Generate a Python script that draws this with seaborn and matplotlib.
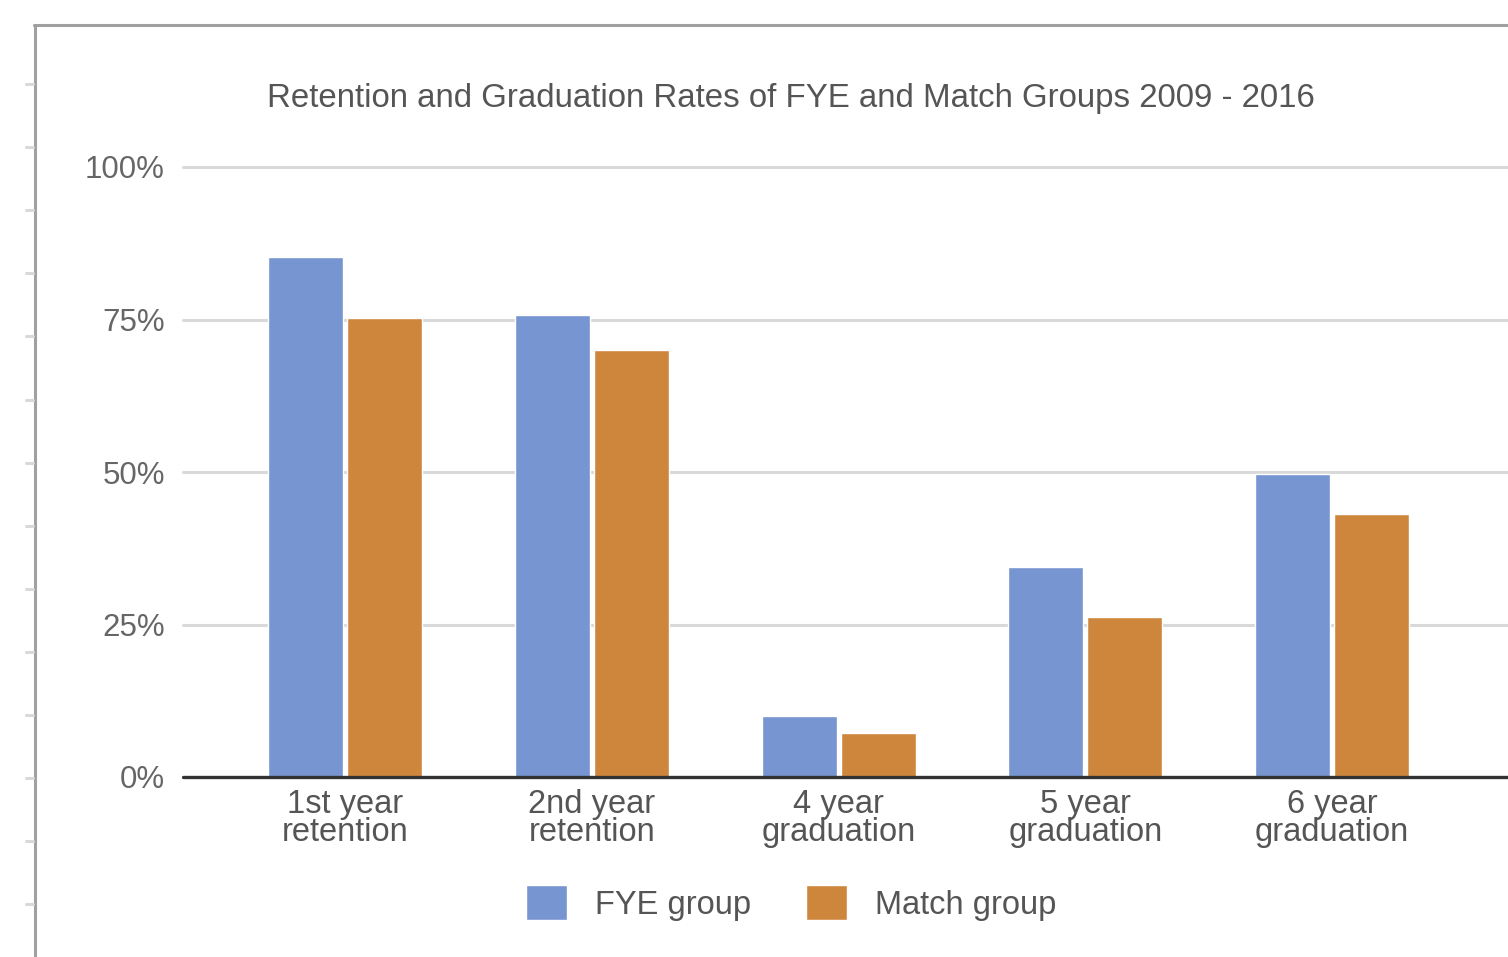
import pandas as pd
import matplotlib
matplotlib.use("Agg")
import matplotlib.pyplot as plt
from matplotlib.lines import Line2D
import seaborn as sns

# chart data
categories = ["1st year\nretention", "2nd year\nretention", "4 year\ngraduation",
              "5 year\ngraduation", "6 year\ngraduation"]
fye_group = [0.853, 0.758, 0.10, 0.344, 0.497]
match_group = [0.752, 0.70, 0.072, 0.262, 0.431]
series_names = ["FYE group", "Match group"]
y_ticks = [0, 0.25, 0.5, 0.75, 1.0]
y_labels = ["0%", "25%", "50%", "75%", "100%"]
title = "Retention and Graduation Rates of FYE and Match Groups 2009 - 2016"

df = pd.DataFrame({
    "category": categories * 2,
    "rate": fye_group + match_group,
    "group": [series_names[0]] * len(categories) + [series_names[1]] * len(categories),
})

sns.set_theme(style="white")
plt.rcParams["font.family"] = ["Liberation Sans", "DejaVu Sans"]

W, H = 1508, 957
fig = plt.figure(figsize=(W / 100, H / 100), dpi=100)
ax = fig.add_axes([183 / W, 1 - 777 / H, (W - 183) / W, (777 - 167) / H])

palette = {"FYE group": "#7795d1", "Match group": "#ce863c"}
sns.barplot(data=df, x="category", y="rate", hue="group", palette=palette,
            width=0.64, gap=0.05, saturation=1, ax=ax, legend=True, zorder=3)

ax.set_ylim(0, 1)
ax.set_xlim(-0.6566, len(categories) - 1 + 0.713)
for t in y_ticks[1:]:
    ax.axhline(t, color="#d9d9d9", lw=2.2, zorder=1, clip_on=False)
ax.axhline(0, color="#333333", lw=2.4, zorder=4, clip_on=False)
ax.set_yticks(y_ticks)
ax.set_yticklabels(y_labels, fontsize=22.5, color="#666666")
ax.tick_params(axis="y", length=0, pad=13)
ax.tick_params(axis="x", length=0, pad=9, labelsize=23.5, labelcolor="#555555")
for lbl in ax.get_xticklabels():
    lbl.set_linespacing(0.85)
ax.set_xlabel("")
ax.set_ylabel("")
for s in ax.spines.values():
    s.set_visible(False)

# legend below the chart
handles, labels = ax.get_legend_handles_labels()
ax.legend_.remove()
fig.legend(handles, labels, loc="center", bbox_to_anchor=(791 / W, 1 - 903 / H),
           ncol=2, frameon=False, fontsize=23.5, labelcolor="#555555",
           handlelength=1.25, handleheight=1.25, handletextpad=0.85, columnspacing=1.7)

fig.text(791 / W, 1 - 98 / H, title, ha="center", va="center", fontsize=23.8, color="#555555")

# outer frame and left margin ticks (spreadsheet border)
frame_color = "#a0a0a0"
fig.add_artist(Line2D([35 / W, 35 / W], [0, 1 - 25 / H], color=frame_color, lw=2.2))
fig.add_artist(Line2D([34 / W, 1], [1 - 25 / H, 1 - 25 / H], color=frame_color, lw=2.2))
for k in range(14):
    y = 1 - (84 + 63.1 * k) / H
    fig.add_artist(Line2D([26 / W, 33 / W], [y, y], color="#d9d9d9", lw=2.2))

fig.savefig("out.png", dpi=100)
